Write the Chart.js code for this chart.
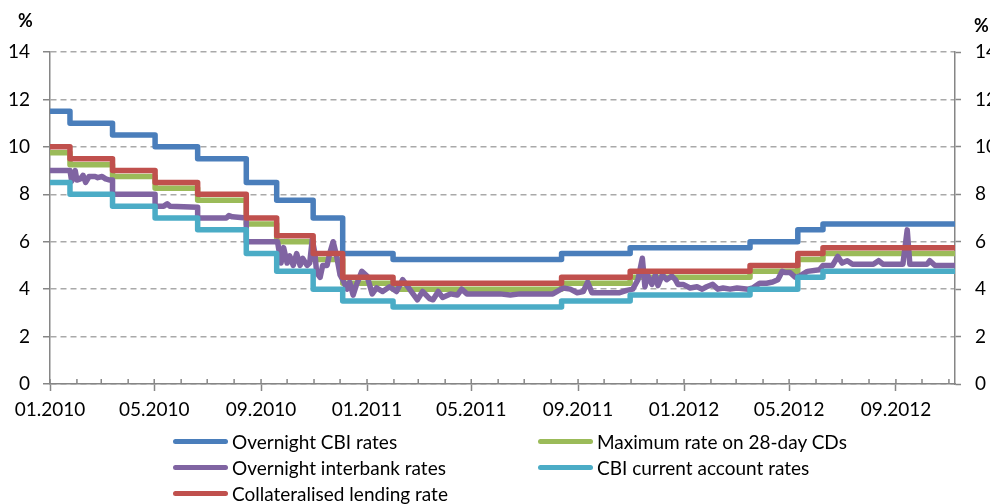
<!DOCTYPE html>
<html>
<head>
<meta charset="utf-8">
<script src="https://cdn.jsdelivr.net/npm/chart.js@4.4.0/dist/chart.umd.min.js"></script>
<style>
    html, body { margin: 0; padding: 0; background: #fff; }
    #wrap { position: relative; width: 990px; height: 504px; overflow: hidden; }
    #legend {
        position: absolute; left: 173px; top: 428px;
        display: grid; grid-template-columns: 365px 380px;
        font-family: Lato, sans-serif; font-size: 19px; color: #000;
    }
    .item { display: flex; align-items: center; height: 26px; white-space: nowrap; }
    .swatch { width: 55px; height: 5px; border-radius: 3px; margin-right: 4px; }
</style>
</head>
<body>
<div id="wrap">
    <canvas id="ratesChart" width="990" height="504"></canvas>
    <div id="legend"></div>
</div>
<script>
// Days counted from 1 Jan 2010 (policy rate change dates, last entry = end of data)
const stepDays = [0, 23, 72, 121, 170, 226, 261, 303, 337, 395, 589, 668, 806, 861, 890, 1042];

const cbiOvernight   = [11.5, 11.0, 10.5, 10.0, 9.5, 8.5, 7.75, 7.0, 5.5, 5.25, 5.5, 5.75, 6.0, 6.5, 6.75, 6.75];
const cdMaxRate      = [9.75, 9.25, 8.75, 8.25, 7.75, 6.75, 6.0, 5.25, 4.25, 4.0, 4.25, 4.5, 4.75, 5.25, 5.5, 5.5];
const currentAccount = [8.5, 8.0, 7.5, 7.0, 6.5, 5.5, 4.75, 4.0, 3.5, 3.25, 3.5, 3.75, 4.0, 4.5, 4.75, 4.75];
const collateralised = [10.0, 9.5, 9.0, 8.5, 8.0, 7.0, 6.25, 5.5, 4.5, 4.25, 4.5, 4.75, 5.0, 5.5, 5.75, 5.75];

// Overnight interbank rate
const interbankDays = [
    0, 23, 25, 29, 31, 35, 38, 41, 45, 52, 55, 60, 64, 69, 72, 72,
    121, 121, 131, 135, 138, 170, 170, 203, 206, 210, 226, 226,
    262, 266, 269, 273, 276, 280, 284, 288, 291, 296, 299, 302, 305, 307,
    311, 314, 319, 322, 326, 330, 334, 337, 342, 345, 349, 353, 359, 365,
    371, 376, 383, 391, 399, 406, 414, 423, 429, 437, 441, 447, 452, 461,
    469, 474, 480, 495, 518, 530, 541, 579, 591, 599, 607, 614, 619, 624,
    633, 656, 664, 671, 677, 682, 685, 688, 693, 697, 700, 705, 710, 716,
    720, 723, 729, 737, 745, 751, 756, 763, 769, 775, 783, 791, 804, 809,
    817, 825, 832, 838, 843, 847, 852, 858, 863, 872, 886, 890, 901, 907,
    912, 918, 924, 948, 954, 959, 982, 987, 990, 1010, 1013, 1019, 1042
];
const interbankRates = [
    9.0, 9.0, 8.55, 9.0, 8.6, 8.65, 8.8, 8.5, 8.75, 8.75, 8.7, 8.75, 8.65, 8.6, 8.6, 8.0,
    8.0, 7.5, 7.5, 7.6, 7.5, 7.45, 7.0, 7.0, 7.1, 7.05, 7.0, 6.0,
    6.0, 5.1, 5.75, 5.1, 5.4, 5.0, 5.5, 5.0, 5.3, 5.0, 5.1, 6.1, 5.5, 4.7,
    4.5, 5.0, 5.0, 5.5, 6.0, 5.4, 4.6, 4.4, 4.0, 4.3, 3.75, 4.2, 4.75, 4.55,
    3.8, 4.05, 3.9, 4.1, 3.9, 4.4, 4.0, 3.55, 3.9, 3.6, 3.55, 3.9, 3.65, 3.8,
    3.75, 4.0, 3.8, 3.8, 3.8, 3.75, 3.8, 3.8, 4.05, 4.0, 3.85, 3.9, 4.3, 3.85,
    3.85, 3.85, 3.95, 4.0, 4.4, 5.3, 4.1, 4.6, 4.2, 4.6, 4.15, 4.6, 4.4, 4.55,
    4.4, 4.2, 4.2, 4.05, 4.1, 4.0, 4.1, 4.2, 4.0, 4.05, 4.0, 4.05, 4.0, 4.05,
    4.25, 4.25, 4.3, 4.4, 4.75, 4.7, 4.7, 4.5, 4.55, 4.75, 4.82, 5.0, 5.0, 5.38,
    5.1, 5.2, 5.05, 5.05, 5.2, 5.05, 5.05, 6.5, 5.05, 5.05, 5.2, 5.0, 5.0
];

const yTicks = [0, 2, 4, 6, 8, 10, 12, 14];
const tickMonthCount = 35; // 01.2010 ... 11.2012

const labelFont = { family: 'Lato', size: 19 };
const gridGrey = '#A9A9A9';
const axisGrey = '#868686';

// Month starts as day offsets, labels every 4th month
const startUTC = Date.UTC(2010, 0, 1);
const monthTicks = [];
for (let m = 0; m < tickMonthCount; m++) {
    const d = new Date(Date.UTC(2010, m, 1));
    monthTicks.push({
        value: (d.getTime() - startUTC) / 86400000,
        label: String(d.getUTCMonth() + 1).padStart(2, '0') + '.' + d.getUTCFullYear()
    });
}

function toPoints(days, values) {
    return days.map((d, i) => ({ x: d, y: values[i] }));
}

function lineSet(label, color, data, order, stepped) {
    return {
        label, data, order, stepped,
        borderColor: color,
        backgroundColor: color,
        borderWidth: 5.5,
        borderJoinStyle: 'round',
        borderCapStyle: 'round',
        pointRadius: 0,
        fill: false,
        tension: 0
    };
}

// Inner tick marks on the x axis (every month)
const innerTicks = {
    id: 'innerTicks',
    afterDraw(chart) {
        const xs = chart.scales.x;
        const ctx = chart.ctx;
        const bottom = chart.chartArea.bottom;
        ctx.save();
        ctx.strokeStyle = axisGrey;
        ctx.lineWidth = 1.5;
        xs.ticks.forEach(t => {
            const px = xs.getPixelForValue(t.value);
            ctx.beginPath();
            ctx.moveTo(px, bottom);
            ctx.lineTo(px, bottom - 5);
            ctx.stroke();
        });
        ctx.restore();
    }
};

// "%" unit labels above both axes
const unitLabels = {
    id: 'unitLabels',
    afterDraw(chart) {
        const { ctx, chartArea } = chart;
        ctx.save();
        ctx.font = 'bold 18px Lato';
        ctx.fillStyle = '#000';
        ctx.textBaseline = 'top';
        ctx.fillText('%', chartArea.left - 32, chartArea.top - 40);
        ctx.fillText('%', chartArea.right + 19, chartArea.top - 35);
        ctx.restore();
    }
};

const chart = new Chart(document.getElementById('ratesChart').getContext('2d'), {
    type: 'line',
    data: {
        datasets: [
            lineSet('Overnight CBI rates', '#4A7EBB', toPoints(stepDays, cbiOvernight), 5, true),
            lineSet('Maximum rate on 28-day CDs', '#9BBB59', toPoints(stepDays, cdMaxRate), 4, true),
            lineSet('Overnight interbank rates', '#8064A2', toPoints(interbankDays, interbankRates), 3, false),
            lineSet('CBI current account rates', '#4BACC6', toPoints(stepDays, currentAccount), 2, true),
            lineSet('Collateralised lending rate', '#C0504D', toPoints(stepDays, collateralised), 1, true)
        ]
    },
    options: {
        responsive: false,
        animation: false,
        layout: { padding: { top: 52, bottom: 80, left: 0, right: 0 } },
        plugins: {
            legend: { display: false },
            tooltip: { enabled: false }
        },
        scales: {
            x: {
                type: 'linear',
                min: 0,
                max: stepDays[stepDays.length - 1],
                afterBuildTicks: (scale) => {
                    scale.ticks = monthTicks.map(t => ({ value: t.value }));
                },
                afterFit: (scale) => { scale.height = 40; },
                ticks: {
                    autoSkip: false,
                    maxRotation: 0,
                    minRotation: 0,
                    padding: 7,
                    color: '#000',
                    font: labelFont,
                    callback: (value, index) => (index % 4 === 0 ? monthTicks[index].label : '')
                },
                grid: {
                    drawOnChartArea: false,
                    tickLength: 7,
                    tickWidth: 1.5,
                    tickColor: (ctx) => (ctx.index % 4 === 0 ? axisGrey : 'rgba(0,0,0,0)')
                },
                border: { color: axisGrey, width: 1.5 }
            },
            y: {
                position: 'left',
                min: 0,
                max: 14,
                afterBuildTicks: (scale) => {
                    scale.ticks = yTicks.map(v => ({ value: v }));
                },
                afterFit: (scale) => { scale.width = 50; },
                ticks: { padding: 13, color: '#000', font: labelFont },
                grid: {
                    color: gridGrey,
                    lineWidth: 1.5,
                    tickLength: 7,
                    tickColor: axisGrey,
                    tickBorderDash: []
                },
                border: { color: axisGrey, width: 1.5, dash: [6, 4] }
            },
            y2: {
                position: 'right',
                min: 0,
                max: 14,
                afterBuildTicks: (scale) => {
                    scale.ticks = yTicks.map(v => ({ value: v }));
                },
                afterFit: (scale) => { scale.width = 35; },
                ticks: { padding: 14, color: '#000', font: labelFont },
                grid: {
                    drawOnChartArea: false,
                    tickLength: 6,
                    tickColor: axisGrey,
                    tickWidth: 1.5
                },
                border: { color: axisGrey, width: 1.5 }
            }
        }
    },
    plugins: [innerTicks, unitLabels]
});

// Two-column legend built from the datasets
const legendEl = document.getElementById('legend');
legendEl.innerHTML = chart.data.datasets.map(ds => `
    <div class="item">
        <span class="swatch" style="background:${ds.borderColor}"></span>
        <span>${ds.label}</span>
    </div>
`).join('');
</script>
</body>
</html>
